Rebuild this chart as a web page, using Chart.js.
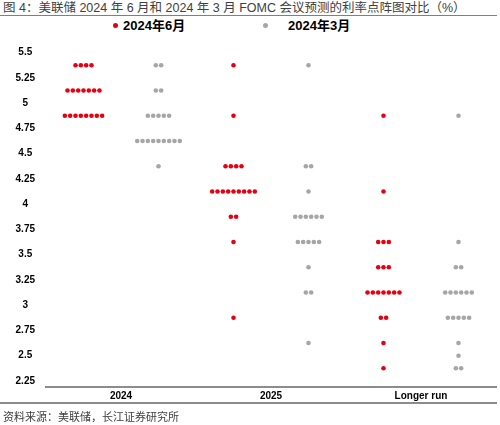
<!DOCTYPE html>
<html>
<head>
<meta charset="utf-8">
<script src="https://cdn.jsdelivr.net/npm/chart.js@4.4.1/dist/chart.umd.min.js"></script>
<style>
    body {
        margin: 0;
        width: 500px;
        height: 425px;
        background: #fff;
        position: relative;
        overflow: hidden;
        font-family: "Liberation Sans", Arial, "Noto Sans CJK SC", sans-serif;
    }
    .abs { position: absolute; white-space: nowrap; }
    #titulo { left: 3px; top: 1px; font-size: 12.5px; color: #404040; line-height: 14px; }
    #lineaTitulo { left: 0; top: 15px; width: 497px; border-top: 1px solid #7f7f7f; }
    #lineaAbajo { left: 0; top: 402px; width: 497px; border-top: 2px solid #8c8c8c; }
    #fuente { left: 3px; top: 411px; font-size: 11px; color: #404040; line-height: 13px; }
    .punto { width: 5px; height: 5px; border-radius: 50%; }
    .leyenda { font-size: 13px; font-weight: bold; color: #000; line-height: 15px; top: 18px; }
    #chartBox { left: 0; top: 0; width: 500px; height: 425px; }
</style>
</head>
<body>
<div class="abs" id="titulo">图 4：美联储 2024 年 6 月和 2024 年 3 月 FOMC 会议预测的利率点阵图对比（%）</div>
<div class="abs" id="lineaTitulo"></div>

<div class="abs punto" style="left:113px; top:23px; background:#e60012;"></div>
<div class="abs leyenda" style="left:123px;">2024年6月</div>
<div class="abs punto" style="left:263px; top:23px; background:#a6a6a6;"></div>
<div class="abs leyenda" style="left:288px;">2024年3月</div>

<div class="abs" id="chartBox"><canvas id="dotChart" width="500" height="425"></canvas></div>

<div class="abs" id="lineaAbajo"></div>
<div class="abs" id="fuente">资料来源：美联储，长江证券研究所</div>

<script>
// Categorías y niveles de tasa (puntos medios de los rangos)
const categories = ['2024', '2025', 'Longer run'];
const levels = [5.375, 5.125, 4.875, 4.625, 4.375, 4.125, 3.875, 3.625, 3.375, 3.125, 2.875, 2.625, 2.5, 2.375];
const yTicks = [5.5, 5.25, 5, 4.75, 4.5, 4.25, 4, 3.75, 3.5, 3.25, 3, 2.75, 2.5, 2.25];

// Número de participantes por nivel (mismo orden que levels)
const jun2024 = [4, 7, 8, 0, 0, 0, 0, 0, 0, 0, 0, 0, 0, 0];
const jun2025 = [1, 0, 1, 0, 4, 9, 2, 1, 0, 0, 1, 0, 0, 0];
const junLonger = [0, 0, 1, 0, 0, 1, 0, 3, 3, 7, 2, 1, 0, 1];
const mar2024 = [2, 2, 5, 9, 1, 0, 0, 0, 0, 0, 0, 0, 0, 0];
const mar2025 = [1, 0, 0, 0, 2, 1, 6, 5, 1, 2, 0, 1, 0, 0];
const marLonger = [0, 0, 1, 0, 0, 0, 0, 1, 2, 6, 5, 1, 1, 2];

const RED = '#e60012';
const GRAY = '#a6a6a6';
const dotStep = 0.0355; // separación horizontal entre puntos
const sideOffset = 0.25;

// Convierte conteos en puntos (x en unidades de categoría)
function buildDots(countsByCat, side) {
    const pts = [];
    countsByCat.forEach((counts, i) => {
        counts.forEach((n, j) => {
            for (let k = 0; k < n; k++) {
                pts.push({ x: i + side * sideOffset + (k - (n - 1) / 2) * dotStep, y: levels[j] });
            }
        });
    });
    return pts;
}

const tickFont = { family: '"Liberation Sans", Arial, sans-serif', size: 10, weight: 'bold' };

new Chart(document.getElementById('dotChart').getContext('2d'), {
    type: 'scatter',
    data: {
        datasets: [
            {
                label: '2024年6月',
                data: buildDots([jun2024, jun2025, junLonger], -1),
                backgroundColor: RED,
                borderWidth: 0,
                pointRadius: 2.3
            },
            {
                label: '2024年3月',
                data: buildDots([mar2024, mar2025, marLonger], 1),
                backgroundColor: GRAY,
                borderWidth: 0,
                pointRadius: 2.3
            }
        ]
    },
    options: {
        responsive: false,
        animation: false,
        layout: { padding: { top: 45, right: 3, bottom: 22, left: 0 } },
        plugins: {
            legend: { display: false },
            tooltip: { enabled: false }
        },
        scales: {
            x: {
                type: 'linear',
                min: -0.5,
                max: 2.5,
                afterBuildTicks: s => { s.ticks = categories.map((c, i) => ({ value: i })); },
                afterFit: s => { s.height = 16; },
                ticks: {
                    callback: v => categories[v],
                    font: tickFont,
                    color: '#000',
                    padding: 3,
                    maxRotation: 0,
                    autoSkip: false
                },
                grid: { display: false, drawTicks: false },
                border: { display: true, color: '#8c8c8c', width: 2 }
            },
            y: {
                min: 2.19,
                max: 5.576,
                afterBuildTicks: s => { s.ticks = yTicks.map(v => ({ value: v })); },
                afterFit: s => { s.width = 46; },
                ticks: {
                    callback: v => String(v),
                    font: tickFont,
                    color: '#000',
                    crossAlign: 'center',
                    padding: 11,
                    autoSkip: false
                },
                grid: { display: false, drawTicks: false },
                border: { display: false }
            }
        }
    }
});
</script>
</body>
</html>
